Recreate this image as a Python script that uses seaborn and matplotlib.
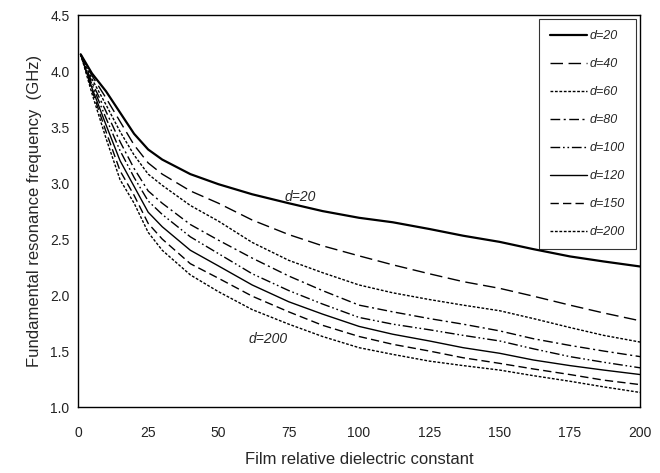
import numpy as np
import pandas as pd
import matplotlib
matplotlib.use("Agg")
import matplotlib.pyplot as plt
import seaborn as sns

x_vals = [1, 5, 10, 15, 20, 25, 30, 40, 50, 62, 75, 87, 100, 112, 125, 137, 150, 162, 175, 187, 200]
series_names = ["d=20", "d=40", "d=60", "d=80", "d=100", "d=120", "d=150", "d=200"]
d20 = [4.15, 3.98, 3.82, 3.63, 3.44, 3.30, 3.21, 3.08, 2.99, 2.90, 2.82, 2.75, 2.69, 2.65, 2.59, 2.53, 2.475, 2.41, 2.345, 2.30, 2.255]
d40 = [4.15, 3.96, 3.76, 3.55, 3.34, 3.18, 3.08, 2.93, 2.82, 2.67, 2.54, 2.44, 2.35, 2.27, 2.19, 2.12, 2.06, 1.99, 1.91, 1.84, 1.77]
d60 = [4.15, 3.93, 3.70, 3.46, 3.25, 3.08, 2.98, 2.80, 2.66, 2.47, 2.31, 2.20, 2.09, 2.02, 1.96, 1.91, 1.86, 1.79, 1.71, 1.64, 1.58]
d80 = [4.15, 3.90, 3.64, 3.37, 3.13, 2.93, 2.82, 2.63, 2.49, 2.33, 2.17, 2.04, 1.91, 1.85, 1.79, 1.74, 1.68, 1.61, 1.55, 1.50, 1.45]
d100 = [4.15, 3.88, 3.58, 3.29, 3.05, 2.84, 2.72, 2.52, 2.37, 2.19, 2.04, 1.92, 1.80, 1.74, 1.69, 1.64, 1.59, 1.52, 1.45, 1.40, 1.35]
d120 = [4.15, 3.85, 3.52, 3.20, 2.97, 2.74, 2.61, 2.40, 2.26, 2.09, 1.94, 1.83, 1.72, 1.65, 1.59, 1.53, 1.48, 1.42, 1.37, 1.33, 1.29]
d150 = [4.15, 3.83, 3.46, 3.11, 2.89, 2.64, 2.50, 2.28, 2.15, 1.99, 1.85, 1.73, 1.63, 1.56, 1.50, 1.44, 1.39, 1.34, 1.29, 1.24, 1.20]
d200 = [4.15, 3.80, 3.40, 3.03, 2.82, 2.56, 2.40, 2.18, 2.03, 1.87, 1.74, 1.63, 1.53, 1.47, 1.41, 1.37, 1.33, 1.28, 1.23, 1.18, 1.13]
all_series = [d20, d40, d60, d80, d100, d120, d150, d200]

x_ticks = [0, 25, 50, 75, 100, 125, 150, 175, 200]
y_ticks = [1.0, 1.5, 2.0, 2.5, 3.0, 3.5, 4.0, 4.5]

sns.set_style("white")
plt.rcParams["font.family"] = ["Liberation Sans", "DejaVu Sans"]

rows = []
for name, ys in zip(series_names, all_series):
    for xv, yv in zip(x_vals, ys):
        rows.append({"eps": xv, "f": yv, "d": name})
df = pd.DataFrame(rows)

styles = {
    "d=20": dict(lw=1.6, dashes=None),
    "d=40": dict(lw=1.0, dashes=(9, 4)),
    "d=60": dict(lw=1.0, dashes=(2, 1.2)),
    "d=80": dict(lw=1.0, dashes=(7, 2.5, 1.5, 2.5)),
    "d=100": dict(lw=1.0, dashes=(7, 2, 1.2, 2, 1.2, 2)),
    "d=120": dict(lw=1.0, dashes=None),
    "d=150": dict(lw=1.0, dashes=(6, 3)),
    "d=200": dict(lw=1.0, dashes=(2, 1.2)),
}

fig = plt.figure(figsize=(6.6, 4.73), dpi=100)
ax = fig.add_axes([0.118, 0.1395, 0.852, 0.8285])

for name in series_names:
    sub = df[df["d"] == name]
    sns.lineplot(data=sub, x="eps", y="f", ax=ax, color="black",
                 lw=styles[name]["lw"], label=name, estimator=None, sort=True)
    line = ax.get_lines()[-1]
    line.set_solid_joinstyle("round")
    if styles[name]["dashes"] is not None:
        line.set_dashes(styles[name]["dashes"])

ax.set_xlim(0, 200)
ax.set_ylim(1.0, 4.5)
ax.set_xticks(x_ticks)
ax.set_yticks(y_ticks)
ax.set_xticklabels([str(t) for t in x_ticks])
ax.set_yticklabels([f"{t:.1f}" for t in y_ticks])
ax.tick_params(direction="in", length=4, width=0.8, colors="black", labelsize=10,
               labelcolor="#222222", pad=14)
ax.tick_params(axis="y", pad=6)
for s in ax.spines.values():
    s.set_color("black")
    s.set_linewidth(1.0)

ax.set_xlabel("Film relative dielectric constant", fontsize=12, labelpad=8)
ax.set_ylabel("Fundamental resonance frequency  (GHz)", fontsize=12, labelpad=6)

leg = ax.legend(loc="upper right", frameon=True, fancybox=False, edgecolor="black",
                fontsize=9, labelspacing=1.28, handlelength=3.0, handletextpad=0.2,
                borderpad=0.9, borderaxespad=0.3)
leg.get_frame().set_linewidth(0.8)
for t in leg.get_texts():
    t.set_fontstyle("italic")

ax.text(79, 2.875, "d=20", fontsize=10, fontstyle="italic", ha="center", va="center")
ax.text(67.5, 1.61, "d=200", fontsize=10, fontstyle="italic", ha="center", va="center")

fig.savefig("out.png", dpi=100)
